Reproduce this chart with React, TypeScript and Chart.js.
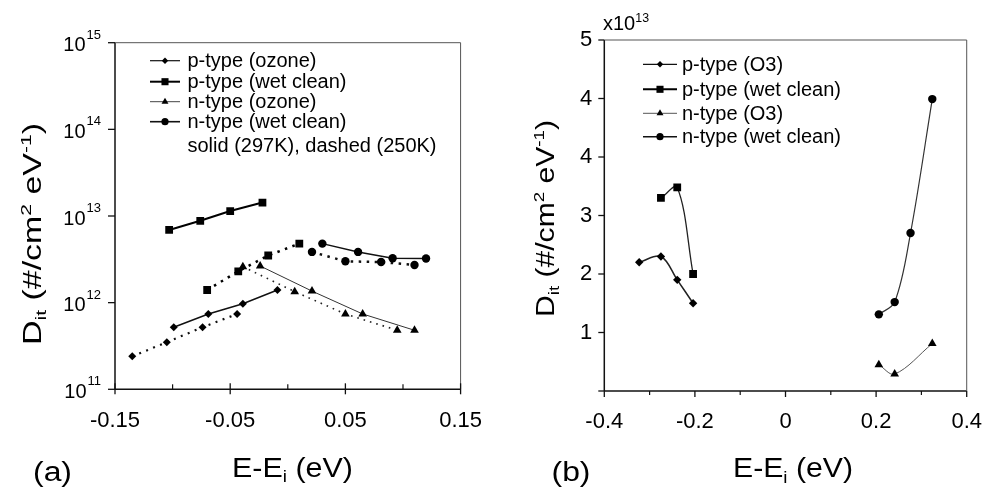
import React, { useEffect, useRef } from 'react';
import { Chart, registerables } from 'chart.js';

Chart.register(...registerables);

const FONT = '"Liberation Sans", Arial, Helvetica, sans-serif';

// ---------------- Panel (a) : log scale ----------------
const xTicksA = [-0.15, -0.1, -0.05, 0, 0.05, 0.1, 0.15];
const xLabelsA = ['-0.15', '', '-0.05', '', '0.05', '', '0.15'];
const yTicksA = [1e11, 1e12, 1e13, 1e14, 1e15];
const yExponentsA = ['11', '12', '13', '14', '15'];

// solid = 297K, dashed = 250K
const pOzone297E = [-0.099, -0.069, -0.039, -0.009];
const pOzone297D = [5.2e11, 7.4e11, 9.7e11, 1.4e12];
const pOzone250E = [-0.135, -0.105, -0.074, -0.044];
const pOzone250D = [2.4e11, 3.5e11, 5.2e11, 7.4e11];

const pWet297E = [-0.103, -0.076, -0.05, -0.022];
const pWet297D = [6.9e12, 8.8e12, 1.14e13, 1.43e13];
const pWet250E = [-0.07, -0.043, -0.017, 0.01];
const pWet250D = [1.4e12, 2.3e12, 3.5e12, 4.8e12];

const nOzone297E = [-0.024, 0.021, 0.065, 0.11];
const nOzone297D = [2.65e12, 1.36e12, 7.4e11, 4.8e11];
const nOzone250E = [-0.039, 0.006, 0.05, 0.095];
const nOzone250D = [2.6e12, 1.34e12, 7.4e11, 4.8e11];

const nWet297E = [0.03, 0.061, 0.091, 0.12];
const nWet297D = [4.8e12, 3.85e12, 3.25e12, 3.23e12];
const nWet250E = [0.021, 0.05, 0.081, 0.11];
const nWet250D = [3.85e12, 3.0e12, 2.94e12, 2.72e12];

const legendA = ['p-type (ozone)', 'p-type (wet clean)', 'n-type (ozone)', 'n-type (wet clean)'];
const legendNoteA = 'solid (297K), dashed (250K)';

// ---------------- Panel (b) : linear scale (x10^13) ----------------
const xTicksB = [-0.4, -0.3, -0.2, -0.1, 0, 0.1, 0.2, 0.3, 0.4];
const xLabelsB = ['-0.4', '', '-0.2', '', '0', '', '0.2', '', '0.4'];
const yTicksB = [0, 1, 2, 3, 4, 5, 6];
const yLabelsB = ['', '1', '2', '3', '4', '4', '5'];

const pO3E = [-0.323, -0.275, -0.239, -0.204];
const pO3D = [2.2, 2.3, 1.9, 1.5];
const pWetBE = [-0.275, -0.239, -0.204];
const pWetBD = [3.3, 3.48, 2.0];
const nO3E = [0.206, 0.241, 0.324];
const nO3D = [0.45, 0.29, 0.81];
const nWetBE = [0.206, 0.241, 0.276, 0.324];
const nWetBD = [1.31, 1.52, 2.7, 4.99];

const legendB = ['p-type (O3)', 'p-type (wet clean)', 'n-type (O3)', 'n-type (wet clean)'];

// ---------------- helpers ----------------
type Seg = { t: string; k?: 'sup' | 'sub' };
const fnt = (s: number) => `${s}px ${FONT}`;

function segsWidth(ctx: CanvasRenderingContext2D, segs: Seg[], size: number) {
  let w = 0;
  for (const s of segs) {
    ctx.font = fnt(s.k ? size * 0.62 : size);
    w += ctx.measureText(s.t).width;
  }
  return w;
}
function drawSegs(ctx: CanvasRenderingContext2D, segs: Seg[], x: number, y: number, size: number) {
  let cx = x;
  ctx.textAlign = 'left';
  ctx.textBaseline = 'alphabetic';
  for (const s of segs) {
    const fs = s.k ? size * 0.62 : size;
    ctx.font = fnt(fs);
    const dy = s.k === 'sup' ? -size * 0.42 : s.k === 'sub' ? size * 0.2 : 0;
    ctx.fillText(s.t, cx, y + dy);
    cx += ctx.measureText(s.t).width;
  }
}
// draws text centred on (cx, cy) where cy is centre of the capital height, fitted to a target length
function drawFitted(ctx: CanvasRenderingContext2D, segs: Seg[], cx: number, cy: number, size: number, targetLen: number, rot: number) {
  ctx.save();
  ctx.translate(cx, cy);
  ctx.rotate(rot);
  const w = segsWidth(ctx, segs, size);
  const sx = targetLen > 0 ? targetLen / w : 1;
  ctx.scale(sx, 1);
  ctx.fillStyle = '#000';
  drawSegs(ctx, segs, -w / 2, size * 0.36, size);
  ctx.restore();
}
function drawMarker(ctx: CanvasRenderingContext2D, style: string, x: number, y: number, r: number, color: string) {
  ctx.save();
  ctx.fillStyle = color;
  ctx.beginPath();
  if (style === 'circle') {
    ctx.arc(x, y, r, 0, Math.PI * 2);
  } else if (style === 'rect') {
    const s = r * Math.SQRT1_2;
    ctx.rect(x - s, y - s, 2 * s, 2 * s);
  } else if (style === 'rectRot') {
    ctx.moveTo(x, y - r);
    ctx.lineTo(x + r, y);
    ctx.lineTo(x, y + r);
    ctx.lineTo(x - r, y);
    ctx.closePath();
  } else if (style === 'triangle') {
    for (let i = 0; i < 3; i++) {
      const a = (i * 2 * Math.PI) / 3;
      const px = x + Math.sin(a) * r;
      const py = y - Math.cos(a) * r;
      if (i === 0) ctx.moveTo(px, py);
      else ctx.lineTo(px, py);
    }
    ctx.closePath();
  }
  ctx.fill();
  ctx.restore();
}
function line(ctx: CanvasRenderingContext2D, x1: number, y1: number, x2: number, y2: number, w: number, c: string) {
  ctx.save();
  ctx.strokeStyle = c;
  ctx.lineWidth = w;
  ctx.beginPath();
  ctx.moveTo(x1, y1);
  ctx.lineTo(x2, y2);
  ctx.stroke();
  ctx.restore();
}
function drawFrame(ctx: CanvasRenderingContext2D, a: { left: number; right: number; top: number; bottom: number }) {
  line(ctx, a.left, a.top, a.left, a.bottom, 1.5, '#111');
  line(ctx, a.left, a.bottom, a.right, a.bottom, 1.5, '#111');
  line(ctx, a.left, a.top, a.right, a.top, 1, '#555');
  line(ctx, a.right, a.top, a.right, a.bottom, 1, '#555');
}

const pts = (xs: number[], ys: number[]) => xs.map((x, i) => ({ x, y: ys[i] }));

type Sty = { marker: string; r: number; w: number; color: string; dash?: number[] };
function dataset(xs: number[], ys: number[], s: Sty, tension = 0) {
  return {
    data: pts(xs, ys),
    showLine: true,
    borderColor: s.color,
    borderWidth: s.w,
    borderDash: s.dash || [],
    backgroundColor: '#000',
    pointStyle: s.marker,
    pointRadius: s.r,
    pointBorderWidth: 0,
    pointBackgroundColor: '#000',
    pointBorderColor: '#000',
    tension,
    fill: false,
  };
}

// ---------------- Chart (a) ----------------
function makeChartA(canvas: HTMLCanvasElement) {
  const ds = [
    dataset(pOzone297E, pOzone297D, { marker: 'rectRot', r: 4, w: 1.5, color: '#111' }),
    dataset(pOzone250E, pOzone250D, { marker: 'rectRot', r: 4, w: 2.2, color: '#111', dash: [2, 5.5] }),
    dataset(pWet297E, pWet297D, { marker: 'rect', r: 5.5, w: 2, color: '#000' }),
    dataset(pWet250E, pWet250D, { marker: 'rect', r: 5.5, w: 2.5, color: '#000', dash: [2.5, 5.5] }),
    dataset(nOzone297E, nOzone297D, { marker: 'triangle', r: 5, w: 1, color: '#333' }),
    dataset(nOzone250E, nOzone250D, { marker: 'triangle', r: 5, w: 1.6, color: '#222', dash: [1.6, 5] }),
    dataset(nWet297E, nWet297D, { marker: 'circle', r: 4.2, w: 1.5, color: '#111' }),
    dataset(nWet250E, nWet250D, { marker: 'circle', r: 4.2, w: 2.5, color: '#111', dash: [2.5, 5.5] }),
  ];
  const deco = {
    id: 'decoA',
    afterDraw(chart: any) {
      const ctx: CanvasRenderingContext2D = chart.ctx;
      const a = chart.chartArea;
      const xs = chart.scales.x;
      const ys = chart.scales.y;
      drawFrame(ctx, a);
      // x ticks
      xTicksA.forEach((v, i) => {
        const px = xs.getPixelForValue(v);
        if (xLabelsA[i]) line(ctx, px, a.bottom - 6, px, a.bottom + 5, 1.3, '#111');
        else line(ctx, px, a.bottom - 5, px, a.bottom, 1.2, '#111');
      });
      // y ticks + labels
      yTicksA.forEach((v, i) => {
        const py = ys.getPixelForValue(v);
        line(ctx, a.left - 7, py, a.left, py, 1.3, '#111');
        ctx.fillStyle = '#000';
        ctx.font = fnt(13);
        const supW = ctx.measureText(yExponentsA[i]).width;
        ctx.textAlign = 'left';
        ctx.textBaseline = 'alphabetic';
        const right = a.left - 14;
        ctx.fillText(yExponentsA[i], right - supW, py - 4);
        ctx.font = fnt(20);
        ctx.textAlign = 'right';
        ctx.fillText('10', right - supW - 1, py + 8.5);
      });
      // axis titles
      drawFitted(ctx, [{ t: 'E-E' }, { t: 'i', k: 'sub' }, { t: ' (eV)' }], 292.5, 467, 27, 121, 0);
      drawFitted(ctx, [{ t: '(a)' }], 52.5, 471, 27, 39, 0);
      drawFitted(
        ctx,
        [{ t: 'D' }, { t: 'it', k: 'sub' }, { t: ' (#/cm' }, { t: '2', k: 'sup' }, { t: ' eV' }, { t: '-1', k: 'sup' }, { t: ')' }],
        32, 234, 25, 222, -Math.PI / 2
      );
      // legend
      const rows = [60.7, 81.7, 101.7, 121.7];
      const lst = [
        { m: 'rectRot', r: 3.2, w: 1.2, c: '#111' },
        { m: 'rect', r: 5, w: 2, c: '#000' },
        { m: 'triangle', r: 4, w: 1, c: '#444' },
        { m: 'circle', r: 3.6, w: 1.6, c: '#111' },
      ];
      rows.forEach((y, i) => {
        line(ctx, 150, y, 180, y, lst[i].w, lst[i].c);
        drawMarker(ctx, lst[i].m, 165, y, lst[i].r, '#000');
        ctx.fillStyle = '#000';
        ctx.font = fnt(20);
        ctx.textAlign = 'left';
        ctx.textBaseline = 'alphabetic';
        ctx.fillText(legendA[i], 187.5, y + 6.5);
      });
      ctx.fillText(legendNoteA, 187.5, 145 + 6.5);
    },
  };
  return new Chart(canvas, {
    type: 'line',
    data: { datasets: ds as any },
    options: {
      animation: false,
      responsive: false,
      layout: { padding: { left: 0, top: 42.7, right: 30.7, bottom: 0 }, autoPadding: false } as any,
      plugins: { legend: { display: false }, tooltip: { enabled: false } },
      scales: {
        x: {
          type: 'linear',
          min: -0.15,
          max: 0.15,
          afterBuildTicks: (s: any) => {
            s.ticks = xTicksA.map((v) => ({ value: v }));
          },
          afterFit: (s: any) => {
            s.height = 98.7;
          },
          ticks: {
            autoSkip: false,
            maxRotation: 0,
            padding: 18,
            color: '#000',
            font: { family: FONT, size: 22 },
            callback: (_v: any, i: number) => xLabelsA[i],
          },
          grid: { display: false, drawTicks: false },
          border: { display: false },
        },
        y: {
          type: 'logarithmic',
          min: 1e11,
          max: 1e15,
          afterBuildTicks: (s: any) => {
            s.ticks = yTicksA.map((v) => ({ value: v }));
          },
          afterFit: (s: any) => {
            s.width = 115;
          },
          ticks: { display: false },
          grid: { display: false, drawTicks: false },
          border: { display: false },
        },
      },
    } as any,
    plugins: [deco],
  });
}

// ---------------- Chart (b) ----------------
function makeChartB(canvas: HTMLCanvasElement) {
  const ds = [
    dataset(pO3E, pO3D, { marker: 'rectRot', r: 4.2, w: 1.5, color: '#222' }, 0.35),
    dataset(pWetBE, pWetBD, { marker: 'rect', r: 5.5, w: 1.3, color: '#222' }, 0.35),
    dataset(nO3E, nO3D, { marker: 'triangle', r: 5, w: 1, color: '#555' }, 0.35),
    dataset(nWetBE, nWetBD, { marker: 'circle', r: 4.2, w: 1.2, color: '#333' }, 0.35),
  ];
  const deco = {
    id: 'decoB',
    afterDraw(chart: any) {
      const ctx: CanvasRenderingContext2D = chart.ctx;
      const a = chart.chartArea;
      const xs = chart.scales.x;
      const ys = chart.scales.y;
      drawFrame(ctx, a);
      xTicksB.forEach((v, i) => {
        const px = xs.getPixelForValue(v);
        if (xLabelsB[i]) line(ctx, px, a.bottom, px, a.bottom + 6, 1.3, '#111');
        else line(ctx, px, a.bottom, px, a.bottom + 4, 1.2, '#111');
      });
      yTicksB.forEach((v) => {
        const py = ys.getPixelForValue(v);
        line(ctx, a.left - 6, py, a.left, py, 1.3, '#111');
      });
      // multiplier
      ctx.fillStyle = '#000';
      drawSegs(ctx, [{ t: 'x10' }, { t: '13', k: 'sup' }], 103, 30, 20);
      drawFitted(ctx, [{ t: 'E-E' }, { t: 'i', k: 'sub' }, { t: ' (eV)' }], 293, 467.5, 27, 120, 0);
      drawFitted(ctx, [{ t: '(b)' }], 71, 471, 27, 39, 0);
      drawFitted(
        ctx,
        [{ t: 'D' }, { t: 'it', k: 'sub' }, { t: ' (#/cm' }, { t: '2', k: 'sup' }, { t: ' eV' }, { t: '-1', k: 'sup' }, { t: ')' }],
        45, 218.5, 25, 197, -Math.PI / 2
      );
      const rows = [64.3, 89.3, 113.3, 136.7];
      const lst = [
        { m: 'rectRot', r: 3.2, w: 1.2, c: '#111' },
        { m: 'rect', r: 5, w: 2, c: '#000' },
        { m: 'triangle', r: 4, w: 1, c: '#555' },
        { m: 'circle', r: 3.6, w: 1.6, c: '#111' },
      ];
      rows.forEach((y, i) => {
        line(ctx, 143, y, 177, y, lst[i].w, lst[i].c);
        drawMarker(ctx, lst[i].m, 160, y, lst[i].r, '#000');
        ctx.fillStyle = '#000';
        ctx.font = fnt(20);
        ctx.textAlign = 'left';
        ctx.textBaseline = 'alphabetic';
        ctx.fillText(legendB[i], 182, y + 6.5);
      });
    },
  };
  return new Chart(canvas, {
    type: 'line',
    data: { datasets: ds as any },
    options: {
      animation: false,
      responsive: false,
      layout: { padding: { left: 0, top: 40, right: 17.3, bottom: 0 }, autoPadding: false } as any,
      plugins: { legend: { display: false }, tooltip: { enabled: false } },
      scales: {
        x: {
          type: 'linear',
          min: -0.4,
          max: 0.4,
          afterBuildTicks: (s: any) => {
            s.ticks = xTicksB.map((v) => ({ value: v }));
          },
          afterFit: (s: any) => {
            s.height = 97;
          },
          ticks: {
            autoSkip: false,
            maxRotation: 0,
            padding: 18,
            color: '#000',
            font: { family: FONT, size: 22 },
            callback: (_v: any, i: number) => xLabelsB[i],
          },
          grid: { display: false, drawTicks: false },
          border: { display: false },
        },
        y: {
          type: 'linear',
          min: 0,
          max: 6,
          afterBuildTicks: (s: any) => {
            s.ticks = yTicksB.map((v) => ({ value: v }));
          },
          afterFit: (s: any) => {
            s.width = 104.3;
          },
          ticks: {
            autoSkip: false,
            padding: 12,
            color: '#000',
            font: { family: FONT, size: 22 },
            callback: (_v: any, i: number) => yLabelsB[i],
          },
          grid: { display: false, drawTicks: false },
          border: { display: false },
        },
      },
    } as any,
    plugins: [deco],
  });
}

export default function App() {
  const refA = useRef<HTMLCanvasElement | null>(null);
  const refB = useRef<HTMLCanvasElement | null>(null);
  useEffect(() => {
    const ca = refA.current ? makeChartA(refA.current) : null;
    const cb = refB.current ? makeChartB(refB.current) : null;
    return () => {
      ca && ca.destroy();
      cb && cb.destroy();
    };
  }, []);
  return (
    <div style={{ position: 'fixed', left: 0, top: 0, width: 1000, height: 488, background: '#fff', overflow: 'hidden' }}>
      <canvas ref={refA} width={500} height={488} style={{ position: 'absolute', left: 0, top: 0, width: 500, height: 488 }} />
      <canvas ref={refB} width={500} height={488} style={{ position: 'absolute', left: 500, top: 0, width: 500, height: 488 }} />
    </div>
  );
}
